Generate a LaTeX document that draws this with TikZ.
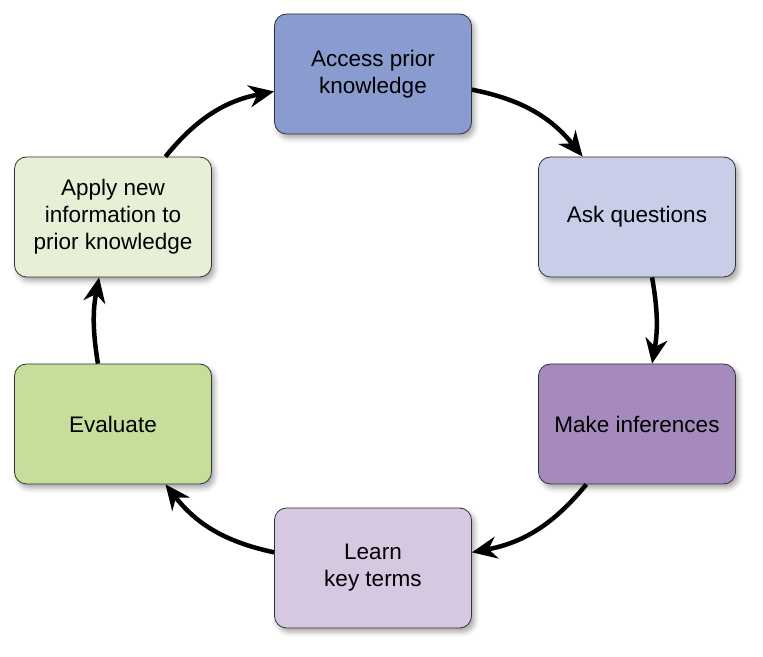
\documentclass[tikz,border=0pt]{standalone}
\usepackage{fontspec}
\setmainfont{Liberation Sans}
\usetikzlibrary{arrows.meta,shadows.blur}

\definecolor{accessblue}{HTML}{8A9CCF}
\definecolor{askblue}{HTML}{C8CDE8}
\definecolor{inferpurple}{HTML}{A68ABD}
\definecolor{learnpurple}{HTML}{D7C8E2}
\definecolor{evalgreen}{HTML}{C6DE9C}
\definecolor{applygreen}{HTML}{E7F0D6}

\begin{document}
\begin{tikzpicture}[x=1pt, y=1pt,
    stagebox/.style={draw=black!80, line width=0.8pt, rounded corners=12pt,
        minimum width=197pt, minimum height=120pt, align=center,
        font=\fontsize{22.5}{27}\selectfont,
        blur shadow={shadow xshift=3pt, shadow yshift=-4pt, shadow blur radius=5pt, shadow opacity=35}},
    cycarrow/.style={line width=4.5pt, -{Stealth[length=25pt, width=22pt, inset=8pt]}}]
    \useasboundingbox (0,0) rectangle (763,656);
    \node[stagebox, fill=accessblue] (access) at (373,582) {Access prior\\knowledge};
    \node[stagebox, fill=askblue] (ask) at (637,439) {Ask questions};
    \node[stagebox, fill=inferpurple] (infer) at (637,232) {Make inferences};
    \node[stagebox, fill=learnpurple] (learn) at (373,88) {Learn\\key terms};
    \node[stagebox, fill=evalgreen] (evaluate) at (113,232) {Evaluate};
    \node[stagebox, fill=applygreen] (apply) at (113,439) {Apply new\\information to\\prior knowledge};
    % cycle arrows
    \draw[cycarrow] (access.-9) to[bend left=20] (ask.132);
    \draw[cycarrow] (ask.-76) to[bend left=10] (infer.76);
    \draw[cycarrow] (infer.-130) to[bend left=20] (learn.9);
    \draw[cycarrow] (learn.171) to[bend left=20] (evaluate.-49);
    \draw[cycarrow] (evaluate.104) to[bend left=10] (apply.-103);
    \draw[cycarrow] (apply.49) to[bend left=20] (access.-170);
\end{tikzpicture}
\end{document}
